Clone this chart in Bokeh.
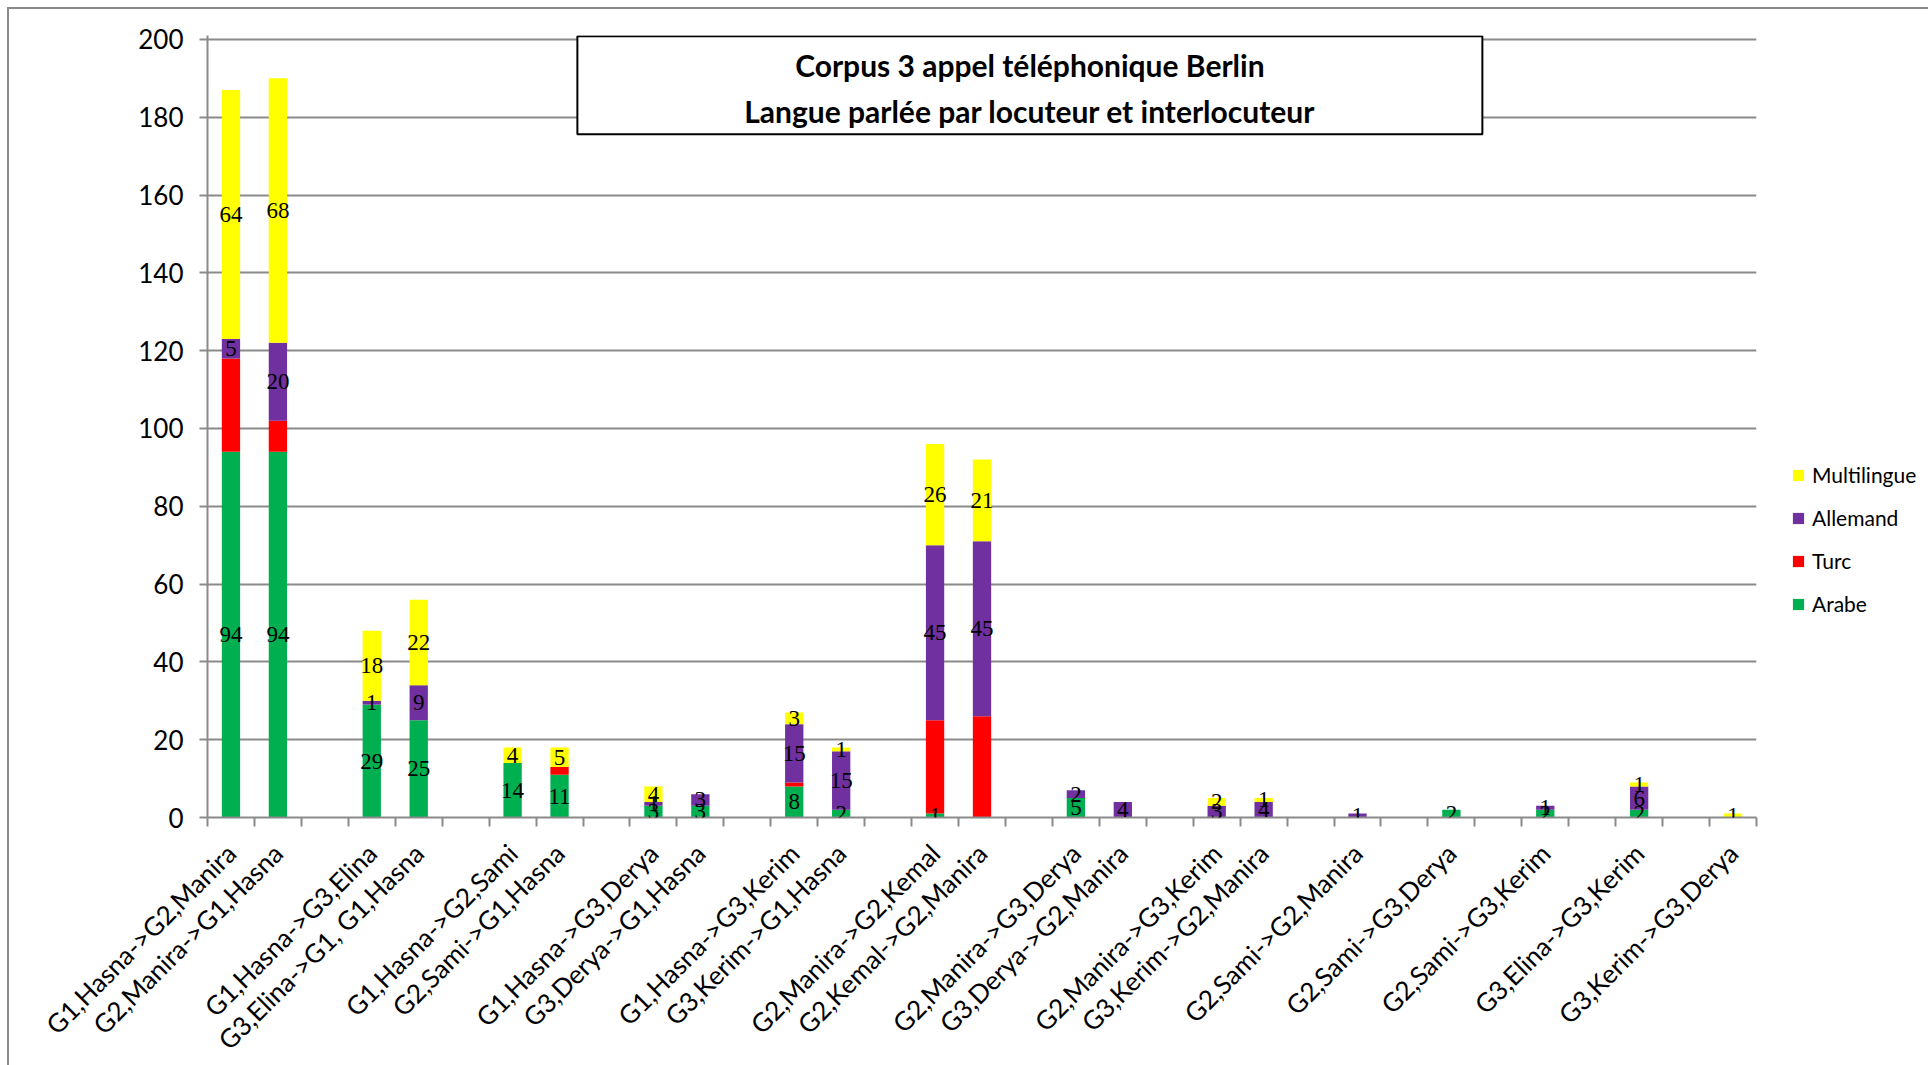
import math
from bokeh.plotting import figure
from bokeh.models import (ColumnDataSource, FixedTicker, LabelSet, Label, BoxAnnotation,
                          Legend, LegendItem, Range1d, CustomJSTickFormatter)
from bokeh.embed import file_html
from bokeh.resources import INLINE

categories = ["G1,Hasna->G2,Manira", "G2,Manira->G1,Hasna", "",
              "G1,Hasna->G3,Elina", "G3,Elina->G1, G1,Hasna", "",
              "G1,Hasna->G2,Sami", "G2,Sami->G1,Hasna", "",
              "G1,Hasna->G3,Derya", "G3,Derya->G1,Hasna", "",
              "G1,Hasna->G3,Kerim", "G3,Kerim->G1,Hasna", "",
              "G2,Manira->G2,Kemal", "G2,Kemal->G2,Manira", "",
              "G2,Manira->G3,Derya", "G3,Derya->G2,Manira", "",
              "G2,Manira->G3,Kerim", "G3,Kerim->G2,Manira", "",
              "G2,Sami->G2,Manira", "", "G2,Sami->G3,Derya", "",
              "G2,Sami->G3,Kerim", "", "G3,Elina->G3,Kerim", "",
              "G3,Kerim->G3,Derya"]
arabe =       [94, 94, 0, 29, 25, 0, 14, 11, 0, 3, 3, 0, 8, 2, 0, 1, 0, 0, 5, 0, 0, 0, 0, 0, 0, 0, 2, 0, 2, 0, 2, 0, 0]
turc =        [24, 8, 0, 0, 0, 0, 0, 2, 0, 0, 0, 0, 1, 0, 0, 24, 26, 0, 0, 0, 0, 0, 0, 0, 0, 0, 0, 0, 0, 0, 0, 0, 0]
allemand =    [5, 20, 0, 1, 9, 0, 0, 0, 0, 1, 3, 0, 15, 15, 0, 45, 45, 0, 2, 4, 0, 3, 4, 0, 1, 0, 0, 0, 1, 0, 6, 0, 0]
multilingue = [64, 68, 0, 18, 22, 0, 4, 5, 0, 4, 0, 0, 3, 1, 0, 26, 21, 0, 0, 0, 0, 2, 1, 0, 0, 0, 0, 0, 0, 0, 1, 0, 1]

series_names = ["Arabe", "Turc", "Allemand", "Multilingue"]
series_colors = ["#00B050", "#FF0000", "#7030A0", "#FFFF00"]
y_ticks = list(range(0, 201, 20))
title_lines = ["Corpus 3 appel téléphonique Berlin", "Langue parlée par locuteur et interlocuteur"]

FONT = "Lato"
GRID = "#8a8a8a"

n = len(categories)
xs = [i + 0.5 for i in range(n)]
source = ColumnDataSource(dict(x=xs, Arabe=arabe, Turc=turc, Allemand=allemand, Multilingue=multilingue))

p = figure(frame_width=1549, frame_height=782, x_range=Range1d(0, n), y_range=Range1d(0, 201),
           output_backend="svg", toolbar_location=None,
           min_border_left=198, min_border_top=26, min_border_right=170, min_border_bottom=246)
p.styles = {"margin-left": "7px", "margin-top": "7px",
            "border-top": "2px solid #8a8a8a", "border-left": "2px solid #8a8a8a"}
p.background_fill_color = "white"
p.border_fill_color = "white"
p.outline_line_color = None

renderers = p.vbar_stack(series_names, x="x", width=0.39, source=source,
                         color=series_colors, line_color=None)

# data labels (centered in each segment, Turc unlabeled)
lx, ly, lt = [], [], []
vals = dict(Arabe=arabe, Turc=turc, Allemand=allemand, Multilingue=multilingue)
for i in range(n):
    base = 0
    for name in series_names:
        v = vals[name][i]
        if v and name != "Turc":
            lx.append(xs[i]); ly.append(base + v / 2); lt.append(str(v))
        base += v
lab_src = ColumnDataSource(dict(x=lx, y=ly, t=lt))
p.add_layout(LabelSet(x="x", y="y", text="t", source=lab_src, text_align="center",
                      text_baseline="middle", text_font=FONT, text_font_size="23px",
                      text_color="black"))

# axes
p.xgrid.visible = False
p.ygrid.grid_line_color = GRID
p.ygrid.grid_line_width = 2
p.yaxis.ticker = FixedTicker(ticks=y_ticks)
p.yaxis.axis_line_color = GRID
p.yaxis.axis_line_width = 2
p.yaxis.major_tick_line_color = GRID
p.yaxis.major_tick_line_width = 2
p.yaxis.major_tick_out = 8
p.yaxis.major_tick_in = 0
p.yaxis.minor_tick_line_color = None
p.yaxis.major_label_text_font = FONT
p.yaxis.major_label_text_font_size = "26px"
p.yaxis.major_label_text_color = "black"
p.yaxis.major_label_standoff = 16

p.xaxis.ticker = FixedTicker(ticks=xs, minor_ticks=list(range(n + 1)))
p.xaxis.formatter = CustomJSTickFormatter(args=dict(labels=categories),
                                          code="return labels[Math.floor(tick)] || '';")
p.xaxis.axis_line_color = GRID
p.xaxis.axis_line_width = 2
p.xaxis.major_tick_line_color = None
p.xaxis.major_tick_out = 0
p.xaxis.major_tick_in = 0
p.xaxis.minor_tick_line_color = GRID
p.xaxis.minor_tick_line_width = 2
p.xaxis.minor_tick_out = 9
p.xaxis.minor_tick_in = 0
p.xaxis.major_label_orientation = math.pi / 4
p.xaxis.major_label_text_font = FONT
p.xaxis.major_label_text_font_size = "26px"
p.xaxis.major_label_text_color = "black"
p.xaxis.major_label_standoff = 22

# title box
p.add_layout(BoxAnnotation(left=7.88, right=27.16, bottom=175.6, top=200.8,
                           fill_color="white", fill_alpha=1.0,
                           line_color="black", line_alpha=1.0, line_width=2, level="annotation"))
p.add_layout(Label(x=17.52, y=193.3, text=title_lines[0], text_align="center",
                   text_baseline="middle", text_font=FONT, text_font_style="bold",
                   text_font_size="30px", text_color="black"))
p.add_layout(Label(x=17.52, y=181.6, text=title_lines[1], text_align="center",
                   text_baseline="middle", text_font=FONT, text_font_style="bold",
                   text_font_size="30px", text_color="black"))

# legend
items = [LegendItem(label=series_names[k], renderers=[renderers[k]]) for k in (3, 2, 1, 0)]
legend = Legend(items=items, location=(25, 191), margin=0, padding=10,
                glyph_width=14, glyph_height=14, label_standoff=7, spacing=18,
                label_text_font=FONT, label_text_font_size="21px", label_text_color="black",
                border_line_alpha=0, background_fill_alpha=0)
p.add_layout(legend, "right")

open("out.html", "w").write(file_html(p, INLINE))
